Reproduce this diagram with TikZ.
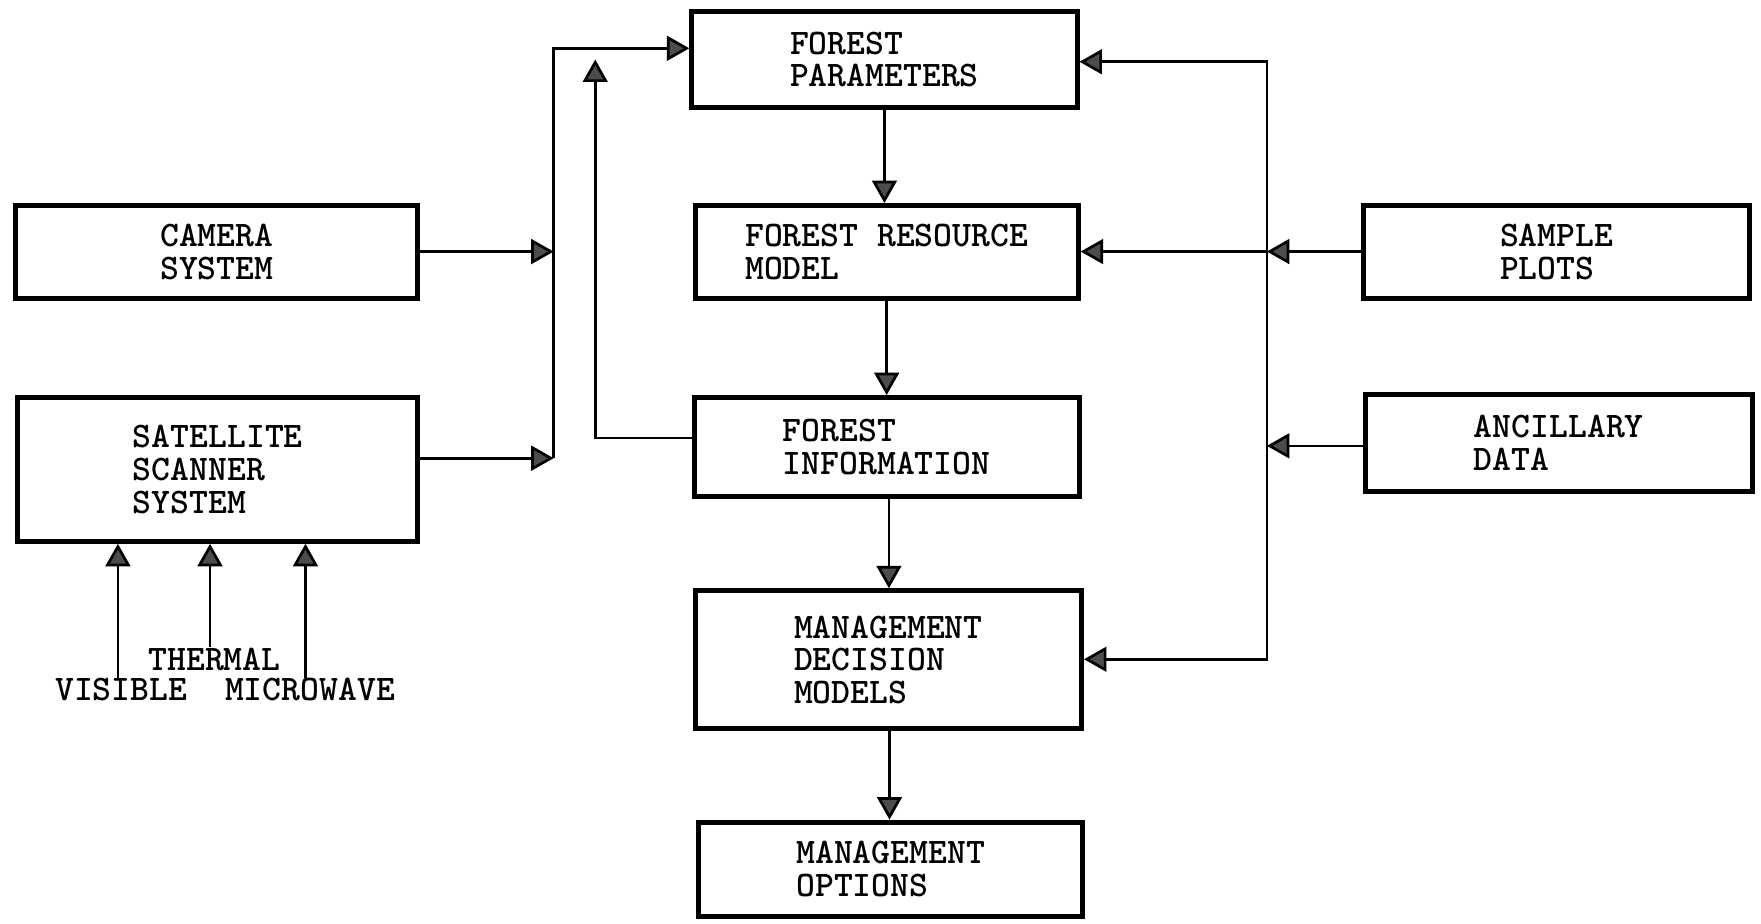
\documentclass[tikz,border=0pt]{standalone}
\usepackage{fontspec}
\usetikzlibrary{arrows.meta,calc}
\begin{document}
\begin{tikzpicture}[x=0.5pt,y=-0.5pt,
  box/.style={draw, line width=2.2pt, rectangle, inner sep=0pt, align=left,
    font=\ttfamily\bfseries\fontsize{16}{14.5}\selectfont},
  lbl/.style={inner sep=0pt, font=\ttfamily\bfseries\fontsize{16}{14.5}\selectfont},
  arr/.style={line width=1.2pt, -{Triangle[length=10pt,width=11pt,fill=black!70]}},
  ln/.style={line width=1.2pt}]
\useasboundingbox[fill=white] (0,0) rectangle (1568,822);
% central column
\node[box, minimum width=171.5pt, minimum height=43pt] (fp) at (787.5,53) {FOREST\\PARAMETERS};
\node[box, minimum width=170.5pt, minimum height=41.5pt] (frm) at (789.5,224.5) {FOREST RESOURCE\\MODEL};
\node[box, minimum width=171.5pt, minimum height=44pt] (fi) at (789.5,398) {FOREST\\INFORMATION};
\node[box, minimum width=172pt, minimum height=61.5pt] (mdm) at (791,587.5) {MANAGEMENT\\DECISION\\MODELS};
\node[box, minimum width=171pt, minimum height=42pt] (mo) at (793,774) {MANAGEMENT\\OPTIONS};
% left column
\node[box, minimum width=179pt, minimum height=41.5pt] (cam) at (193,224.5) {CAMERA\\SYSTEM};
\node[box, minimum width=178pt, minimum height=64pt] (sat) at (194,418) {SATELLITE\\SCANNER\\SYSTEM};
% right column
\node[box, minimum width=172pt, minimum height=41.5pt] (sp) at (1386,224.5) {SAMPLE\\PLOTS};
\node[box, minimum width=172pt, minimum height=43.5pt] (ad) at (1388,394.5) {ANCILLARY\\DATA};
% bottom labels
\node[lbl] (vis) at (108,614) {VISIBLE};
\node[lbl] (thm) at (191,587) {THERMAL};
\node[lbl] (mic) at (276,614) {MICROWAVE};
% junction coordinates
\coordinate (jc) at (493,224);
\coordinate (js) at (493,408);
\coordinate (ltop) at (493,43);
\coordinate (fb) at (530,390);
\coordinate (fbt) at (530,53);
\coordinate (rt) at (1128,55);
\coordinate (rm) at (1128,300);
\coordinate (rb) at (1128,587);
\coordinate (jsp) at (1128,224);
\coordinate (jad) at (1128,397);
% left connectors
\draw[arr] (cam.east |- jc) -- (jc);
\draw[arr] (js -| sat.east) -- (js);
\draw[arr] (js) -- (ltop) -- (ltop -| fp.west);
\draw[arr] (fb -| fi.west) -- (fb) -- (fbt);
% central chain
\draw[arr] (fp.south) -- (fp.south |- frm.north);
\draw[arr] (frm.south) -- (frm.south |- fi.north);
\draw[arr] ([xshift=1pt]fi.south) -- ([xshift=1pt]fi.south |- mdm.north);
\draw[arr] ([xshift=0.5pt]mdm.south) -- ([xshift=0.5pt]mdm.south |- mo.north);
% right connectors
\draw[arr] (rm) -- (rt) -- (rt -| fp.east);
\draw[arr] (rm) -- (rb) -- (rb -| mdm.east);
\draw[arr] (sp.west |- jsp) -- (jsp);
\draw[arr] (jsp) -- (jsp -| frm.east);
\draw[arr] (ad.west |- jad) -- (jad);
% sensor inputs
\draw[arr] ([xshift=-1.5pt]vis.north) -- ([xshift=-1.5pt]vis.north |- sat.south);
\draw[arr] ([xshift=-2pt]thm.north) -- ([xshift=-2pt]thm.north |- sat.south);
\draw[arr] ([xshift=-2pt]mic.north) -- ([xshift=-2pt]mic.north |- sat.south);
\end{tikzpicture}
\end{document}
